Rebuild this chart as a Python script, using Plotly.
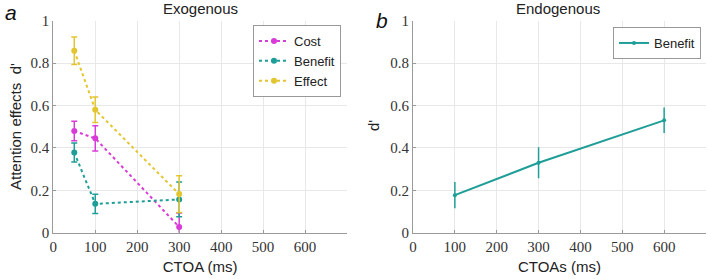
import plotly.graph_objects as go

# ---- data ----
exo_ctoa = [50, 100, 300]
cost = [0.48, 0.445, 0.027]
cost_err = [0.046, 0.06, 0.066]
benefit_exo = [0.378, 0.136, 0.157]
benefit_exo_err = [0.045, 0.045, 0.082]
effect = [0.858, 0.58, 0.182]
effect_err = [0.065, 0.06, 0.087]

endo_ctoa = [100, 300, 600]
benefit_endo = [0.177, 0.33, 0.53]
benefit_endo_err = [0.062, 0.073, 0.06]

x_ticks = [0, 100, 200, 300, 400, 500, 600]
y_ticks = [0, 0.2, 0.4, 0.6, 0.8, 1]
y_ticklabels = ["0", "0.2", "0.4", "0.6", "0.8", "1"]

MAG = "#d93bd9"
TEAL = "#1f9e98"
YEL = "#e3c530"

W, H = 708, 279
def fx(px):
    return px / W
def fy(py):
    return 1 - py / H

fig = go.Figure()

for name, y, e, c in [("Cost", cost, cost_err, MAG),
                      ("Benefit", benefit_exo, benefit_exo_err, TEAL),
                      ("Effect", effect, effect_err, YEL)]:
    fig.add_trace(go.Scatter(
        x=exo_ctoa, y=y, name=name, mode="lines+markers",
        line=dict(color=c, width=2, dash="dot"),
        marker=dict(color=c, size=6),
        error_y=dict(type="data", array=e, color=c, thickness=1.5, width=3),
        xaxis="x", yaxis="y", legend="legend",
    ))

fig.add_trace(go.Scatter(
    x=endo_ctoa, y=benefit_endo, name="Benefit", mode="lines+markers",
    line=dict(color=TEAL, width=2),
    marker=dict(color=TEAL, size=4),
    error_y=dict(type="data", array=benefit_endo_err, color=TEAL, thickness=1.5, width=0),
    xaxis="x2", yaxis="y2", legend="legend2",
))

tickfont = dict(family="Liberation Serif, DejaVu Serif, serif", size=15, color="#333")
axis_common = dict(
    range=[0, 700], tickvals=x_ticks, showgrid=True, gridcolor="#e8e8e8",
    showline=True, linecolor="#9a9a9a", linewidth=1, ticks="inside", ticklen=3,
    tickcolor="#9a9a9a", tickfont=tickfont, zeroline=False, automargin=False,
)
yaxis_common = dict(
    range=[0, 1], tickvals=y_ticks, ticktext=y_ticklabels, showgrid=True,
    gridcolor="#e8e8e8", showline=True, linecolor="#9a9a9a", linewidth=1,
    ticks="inside", ticklen=3, tickcolor="#9a9a9a", tickfont=tickfont,
    zeroline=False, automargin=False,
)

sans = "Liberation Sans, Arial, sans-serif"

def ann(text, x, y, size=15, angle=0, color="#222"):
    return dict(text=text, x=fx(x), y=fy(y), xref="paper", yref="paper",
                xanchor="center", yanchor="middle", showarrow=False,
                textangle=angle, font=dict(family=sans, size=size, color=color))

fig.update_layout(
    width=W, height=H,
    margin=dict(l=0, r=0, t=0, b=0, autoexpand=False),
    paper_bgcolor="white", plot_bgcolor="white",
    font=dict(family=sans, size=13, color="#222"),
    xaxis=dict(domain=[fx(53.3), fx(347)], anchor="y",
               title=dict(text="CTOA (ms)", font=dict(family=sans, size=15), standoff=7),
               **axis_common),
    yaxis=dict(domain=[fy(232.7), fy(20.7)], anchor="x", **yaxis_common),
    xaxis2=dict(domain=[fx(413), fx(706)], anchor="y2",
                title=dict(text="CTOAs (ms)", font=dict(family=sans, size=15), standoff=7),
                **axis_common),
    yaxis2=dict(domain=[fy(232.7), fy(20.7)], anchor="x2", **yaxis_common),
    legend=dict(x=fx(341), y=fy(25), xanchor="right", yanchor="top",
                bgcolor="white", bordercolor="#999", borderwidth=1,
                font=dict(family=sans, size=13, color="#222"),
                itemwidth=30, tracegroupgap=0),
    legend2=dict(x=fx(701), y=fy(27), xanchor="right", yanchor="top",
                 bgcolor="white", bordercolor="#999", borderwidth=1,
                 font=dict(family=sans, size=13, color="#222"),
                 itemwidth=30),
    showlegend=True,
    annotations=[
        ann("Exogenous", 200, 9),
        ann("Endogenous", 558, 9),
        ann("<i>a</i>", 11, 13, size=21, color="#111"),
        ann("<i>b</i>", 382, 20, size=21, color="#111"),
        ann("Attention effects  d'", 16, 127),
        ann("d'", 373, 126),
    ],
)
# rotate the y titles
fig.layout.annotations[4].textangle = -90
fig.layout.annotations[5].textangle = -90

fig.write_html("out.html", config={"displayModeBar": False},
               post_script="document.body.style.margin='0';")
